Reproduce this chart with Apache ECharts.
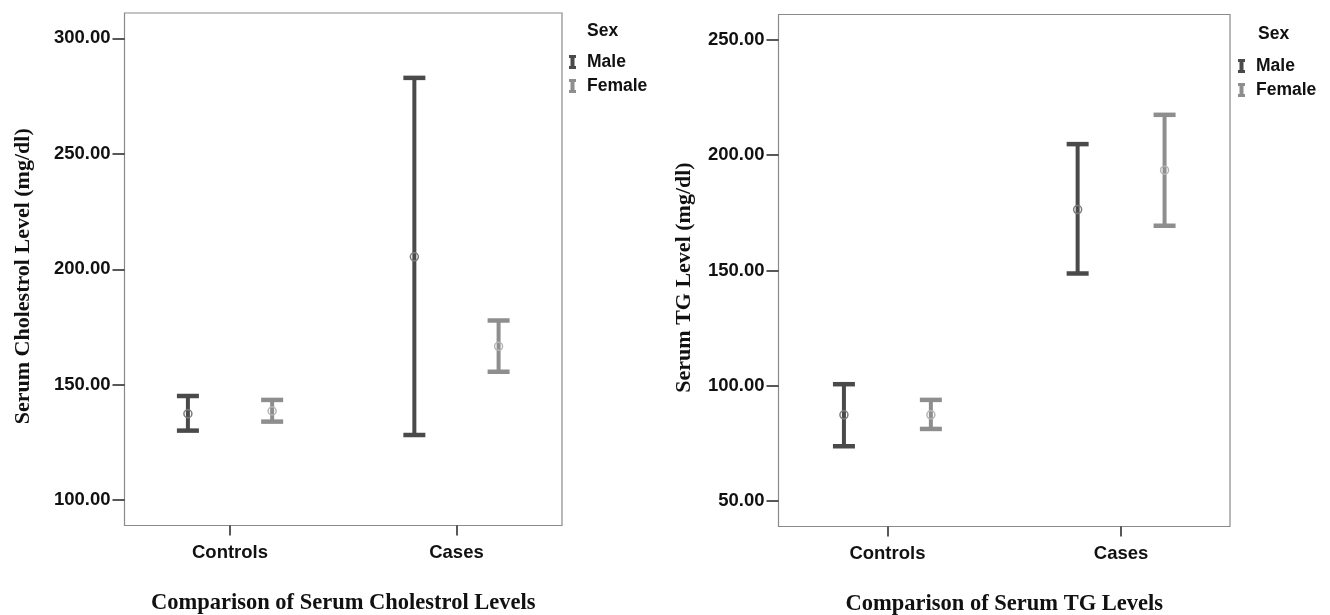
<!DOCTYPE html>
<html>
<head>
<meta charset="utf-8">
<script src="https://cdn.jsdelivr.net/npm/echarts@6/dist/echarts.min.js"></script>
<style>
html,body{margin:0;padding:0;background:#fff;}
#chart{width:1330px;height:615px;}
</style>
</head>
<body>
<div id="chart"></div>
<script>
// ---- data ----
var categories = ['Controls', 'Cases'];
var categoryPos = [0, 1];
var seriesNames = ['Male', 'Female'];

var cholMaleMean = [137.4, 205.4];
var cholMaleLow = [130.1, 128.2];
var cholMaleHigh = [145.1, 282.9];
var cholFemaleMean = [138.6, 166.6];
var cholFemaleLow = [134.0, 155.6];
var cholFemaleHigh = [143.4, 177.8];

var tgMaleMean = [87.4, 176.4];
var tgMaleLow = [73.8, 148.7];
var tgMaleHigh = [100.7, 204.8];
var tgFemaleMean = [87.4, 193.5];
var tgFemaleLow = [81.3, 169.4];
var tgFemaleHigh = [93.9, 217.5];

var cholTicks = [100, 150, 200, 250, 300];
var tgTicks = [50, 100, 150, 200, 250];

var cholYTitle = 'Serum Cholestrol Level (mg/dl)';
var tgYTitle = 'Serum TG Level (mg/dl)';
var cholXTitle = 'Comparison of Serum Cholestrol Levels';
var tgXTitle = 'Comparison of Serum TG Levels';
var legendTitle = 'Sex';

// ---- helpers ----
function build(mean, low, high) {
  return categoryPos.map(function (p, i) { return [p, high[i], low[i], mean[i]]; });
}
var MALE = '#4a4a4a', FEMALE = '#8e8e8e';
var MALE_C = '#7a7a7a', FEMALE_C = '#b4b4b4';
var OFFSET = 0.186;
function makeRender(sign, color, circleColor) {
  return function (params, api) {
    var xv = api.value(0) + sign * OFFSET;
    var hi = api.coord([xv, api.value(1)]);
    var lo = api.coord([xv, api.value(2)]);
    var mid = api.coord([xv, api.value(3)]);
    var x = hi[0];
    var hw = 11;
    return {
      type: 'group',
      children: [
        { type: 'line', shape: { x1: x, y1: hi[1], x2: x, y2: lo[1] }, style: { stroke: color, lineWidth: 4 } },
        { type: 'line', shape: { x1: x - hw, y1: hi[1], x2: x + hw, y2: hi[1] }, style: { stroke: color, lineWidth: 4.5 } },
        { type: 'line', shape: { x1: x - hw, y1: lo[1], x2: x + hw, y2: lo[1] }, style: { stroke: color, lineWidth: 4.5 } },
        { type: 'circle', shape: { cx: x, cy: mid[1], r: 4 }, style: { fill: 'none', stroke: circleColor, lineWidth: 1.5 } }
      ]
    };
  };
}
var SANS = '"Liberation Sans", Arial, sans-serif';
var SERIF = '"Liberation Serif", "Times New Roman", serif';

function xAxis(gi, title) {
  return {
    type: 'value', gridIndex: gi, min: -0.466, max: 1.466, position: 'bottom',
    splitLine: { show: false },
    axisLine: { show: false, onZero: false },
    axisTick: { show: true, customValues: categoryPos, length: 10, inside: false, lineStyle: { color: '#222', width: 1.5 } },
    axisLabel: { margin: 18, customValues: categoryPos, fontFamily: SANS, fontWeight: 'bold', fontSize: 18.5, color: '#111',
      formatter: function (v) { return categories[categoryPos.indexOf(Math.round(v))] || ''; } },
    name: title, nameLocation: 'middle', nameGap: 66,
    nameTextStyle: { fontFamily: SERIF, fontWeight: 'bold', fontSize: 22.5, color: '#111' }
  };
}
function yAxis(gi, min, max, ticks, title, gap) {
  return {
    type: 'value', gridIndex: gi, min: min, max: max, position: 'left',
    splitLine: { show: false },
    axisLine: { show: false, onZero: false },
    axisTick: { show: true, length: 12, customValues: ticks, lineStyle: { color: '#222', width: 1.5 } },
    axisLabel: { margin: 14, customValues: ticks, fontFamily: SANS, fontWeight: 'bold', fontSize: 18.5, color: '#111',
      formatter: function (v) { return Number(v).toFixed(2); } },
    name: title, nameLocation: 'middle', nameRotate: 90, nameGap: gap,
    nameTextStyle: { fontFamily: SERIF, fontWeight: 'bold', fontSize: 22, color: '#111', padding: [0, 0, 0, -14] }
  };
}
var icon = 'path://M0,0 H7 V3 H5.5 V11 H7 V14 H0 V11 H1.5 V3 H0 Z';
function legend(left, top) {
  return {
    data: seriesNames, orient: 'vertical', left: left, top: top, padding: 0,
    icon: icon, itemWidth: 7, itemHeight: 14, itemGap: 6,
    textStyle: { fontFamily: SANS, fontWeight: 'bold', fontSize: 17.5, color: '#111', padding: [0, 0, 0, 6] }
  };
}

var chart = echarts.init(document.getElementById('chart'));
chart.setOption({
  backgroundColor: '#fff',
  animation: false,
  grid: [
    { left: 124.5, right: 768, top: 13, bottom: 89.5, outerBoundsMode: 'none', containLabel: false, show: true, borderColor: '#8a8a8a', borderWidth: 1.2, backgroundColor: 'transparent' },
    { left: 778.5, right: 100, top: 14.5, bottom: 88.5, outerBoundsMode: 'none', containLabel: false, show: true, borderColor: '#8a8a8a', borderWidth: 1.2, backgroundColor: 'transparent' }
  ],
  xAxis: [xAxis(0, cholXTitle), xAxis(1, tgXTitle)],
  yAxis: [yAxis(0, 89, 311, cholTicks, cholYTitle, 90), yAxis(1, 39, 261, tgTicks, tgYTitle, 83)],
  legend: [legend(569, 53), legend(1238, 57)],
  graphic: [
    { type: 'text', left: 587, top: 22, style: { text: legendTitle, font: 'bold 17.5px ' + SANS, fill: '#111' } },
    { type: 'text', left: 1258, top: 25, style: { text: legendTitle, font: 'bold 17.5px ' + SANS, fill: '#111' } }
  ],
  series: [
    { name: 'Male', type: 'custom', xAxisIndex: 0, yAxisIndex: 0, itemStyle: { color: MALE },
      renderItem: makeRender(-1, MALE, MALE_C), encode: { x: 0, y: [1, 2, 3] }, data: build(cholMaleMean, cholMaleLow, cholMaleHigh) },
    { name: 'Female', type: 'custom', xAxisIndex: 0, yAxisIndex: 0, itemStyle: { color: FEMALE },
      renderItem: makeRender(1, FEMALE, FEMALE_C), encode: { x: 0, y: [1, 2, 3] }, data: build(cholFemaleMean, cholFemaleLow, cholFemaleHigh) },
    { name: 'Male', type: 'custom', xAxisIndex: 1, yAxisIndex: 1, itemStyle: { color: MALE },
      renderItem: makeRender(-1, MALE, MALE_C), encode: { x: 0, y: [1, 2, 3] }, data: build(tgMaleMean, tgMaleLow, tgMaleHigh) },
    { name: 'Female', type: 'custom', xAxisIndex: 1, yAxisIndex: 1, itemStyle: { color: FEMALE },
      renderItem: makeRender(1, FEMALE, FEMALE_C), encode: { x: 0, y: [1, 2, 3] }, data: build(tgFemaleMean, tgFemaleLow, tgFemaleHigh) }
  ]
});
</script>
</body>
</html>
